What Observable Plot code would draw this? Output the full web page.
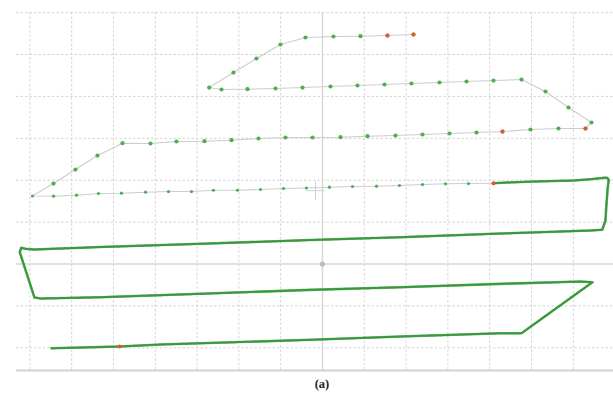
<!DOCTYPE html>
<html>
<head>
<meta charset="utf-8">
<script src="https://cdn.jsdelivr.net/npm/d3@7"></script>
<script src="https://cdn.jsdelivr.net/npm/@observablehq/plot@0.6"></script>
<style>
  html, body { margin: 0; padding: 0; background: #fff; }
  #chart svg { display: block; }
  #cap { width: 644px; text-align: center; font: bold 12.5px "Liberation Serif", "DejaVu Serif", serif; color: #222; margin-top: 5px; }
</style>
</head>
<body>
<div id="chart"></div>
<div id="cap">(a)</div>
<script>
// Grid positions (metres, local frame centred on the cross-hair)
const gridX = [-70, -60, -50, -40, -30, -20, -10, 10, 20, 30, 40, 50, 60];
const gridY = [-20, -10, 10, 20, 30, 40, 50, 60];
const axisZero = [0];
const bottomEdge = [-25.4];
const crossMark = [[-1.67, 17.5]];

// Dense (high-rate) part of the track: [x, y]
const denseTrack = [
  [-64.83, -20.10], [-57.89, -19.93], [-48.56, -19.69], [-38.76, -19.21],
  [-2.87, -18.09], [18.66, -17.30], [42.58, -16.52], [47.61, -16.52],
  [64.59, -4.34], [61.72, -4.18], [42.58, -4.73], [18.66, -5.54],
  [-2.87, -6.16], [-29.19, -7.11], [-53.11, -7.92], [-67.46, -8.23],
  [-68.90, -8.00], [-72.42, 2.82], [-72.08, 3.87], [-71.05, 3.63],
  [-69.14, 3.46], [-53.11, 4.06], [-29.19, 4.82], [-2.87, 5.73],
  [18.66, 6.40], [42.58, 7.28], [64.11, 8.00], [66.91, 8.16],
  [67.70, 10.38], [67.94, 14.37], [68.25, 18.33], [68.49, 20.10],
  [68.11, 20.57], [67.30, 20.57], [64.11, 20.24], [60.12, 19.93],
  [50.55, 19.69], [44.19, 19.45], [40.91, 19.28]
];

// Sparse (low-rate) fixes, in track order: [x, y]
const sparseLow = [
  [40.91, 19.28], [34.93, 19.21], [29.43, 19.14], [23.92, 18.97], [18.42, 18.74],
  [12.92, 18.57], [7.18, 18.50], [1.67, 18.33], [-3.83, 18.14], [-9.33, 18.02],
  [-14.83, 17.78], [-20.33, 17.61], [-26.08, 17.61], [-31.34, 17.30], [-36.84, 17.30],
  [-42.34, 17.14], [-48.09, 16.90], [-53.59, 16.83], [-58.85, 16.42], [-64.35, 16.18],
  [-69.38, 16.23]
];
const sparseHigh = [
  [-64.35, 19.21], [-59.09, 22.55], [-53.83, 25.89], [-47.85, 28.83],
  [-41.15, 28.76], [-34.93, 29.24], [-28.23, 29.31], [-21.77, 29.55], [-15.31, 29.95],
  [-8.85, 30.19], [-2.39, 30.19], [4.31, 30.26], [10.77, 30.50], [17.46, 30.67],
  [23.92, 30.91], [30.38, 31.15], [36.84, 31.38], [43.06, 31.62], [49.76, 32.10],
  [56.46, 32.34], [62.92, 32.34], [64.35, 33.77],
  [58.85, 37.35], [53.35, 41.17], [47.61, 44.03],
  [40.91, 43.79], [34.45, 43.56], [27.99, 43.32], [21.29, 43.08], [14.83, 42.84],
  [8.37, 42.60], [1.91, 42.36], [-4.78, 42.12], [-11.24, 41.89], [-17.94, 41.72],
  [-24.16, 41.65], [-27.11, 42.12],
  [-21.29, 45.70], [-15.79, 49.05], [-10.05, 52.39], [-4.07, 54.06],
  [2.63, 54.30], [9.09, 54.37], [15.55, 54.53], [21.77, 54.77]
];
// Fixes flagged red
const redFixes = [
  [-48.56, -19.69], [40.91, 19.28], [43.06, 31.62], [62.92, 32.34],
  [15.55, 54.53], [21.77, 54.77]
];

const sparseTrack = sparseLow.concat(sparseHigh);
const gridStroke = "#d4d4d4";

const chart = Plot.plot({
  width: 613,
  height: 372,
  marginTop: 0, marginRight: 0, marginBottom: 0, marginLeft: 0,
  x: {domain: [-77.03, 69.62], axis: null},
  y: {domain: [-25.89, 62.89], axis: null},
  style: {background: "#fff"},
  marks: [
    Plot.ruleY(gridY, {x1: -73.2, x2: 69.62, stroke: gridStroke, strokeWidth: 1, strokeDasharray: "2.5,2"}),
    Plot.ruleX(gridX, {y1: -25.4, y2: 60, stroke: gridStroke, strokeWidth: 1, strokeDasharray: "2.5,2"}),
    Plot.ruleY(axisZero, {x1: -73.2, x2: 69.62, stroke: "#d6d6d6", strokeWidth: 1.6}),
    Plot.ruleX(axisZero, {y1: -25.4, y2: 60, stroke: "#d6d6d6", strokeWidth: 1.4}),
    Plot.ruleY(bottomEdge, {x1: -73.2, x2: 69.62, stroke: "#d2d2d2", strokeWidth: 2}),
    Plot.dot(crossMark, {x: d => d[0], y: d => d[1], symbol: "plus", r: 6, stroke: "#d0d0d0", strokeWidth: 1}),
    Plot.dot(axisZero, {x: 0, y: 0, r: 2.6, fill: "#bcbcbc"}),
    Plot.line(sparseTrack, {x: d => d[0], y: d => d[1], stroke: "#cdcdcd", strokeWidth: 1.1}),
    Plot.dot(sparseLow, {x: d => d[0], y: d => d[1], r: 1.6, fill: "#4caf50"}),
    Plot.dot(sparseHigh, {x: d => d[0], y: d => d[1], r: 2.1, fill: "#4caf50"}),
    Plot.line(denseTrack, {x: d => d[0], y: d => d[1], stroke: "#6dbf6d", strokeWidth: 2.6, strokeLinejoin: "round"}),
    Plot.line(denseTrack, {x: d => d[0], y: d => d[1], stroke: "#3a9640", strokeWidth: 2, strokeDasharray: "1.2,1.4"}),
    Plot.dot(redFixes, {x: d => d[0], y: d => d[1], r: 2, fill: "#e4572e"})
  ]
});
document.getElementById("chart").appendChild(chart);
</script>
</body>
</html>
